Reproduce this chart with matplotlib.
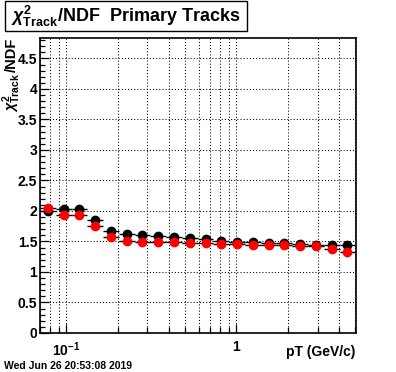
import numpy as np
import matplotlib
matplotlib.use("Agg")
import matplotlib.pyplot as plt
from matplotlib.patches import Rectangle
from matplotlib.ticker import FixedLocator, NullFormatter

plt.rcParams['font.family'] = ['Liberation Sans', 'DejaVu Sans']
plt.rcParams['font.weight'] = 'bold'
plt.rcParams['mathtext.fontset'] = 'custom'
plt.rcParams['mathtext.rm'] = 'Liberation Sans:bold'
plt.rcParams['mathtext.bf'] = 'Liberation Sans:bold'
plt.rcParams['mathtext.it'] = 'Liberation Sans:italic:bold'
plt.rcParams['mathtext.sf'] = 'Liberation Sans:bold'

# ---- data ----
bin_edges = np.logspace(np.log10(0.07), np.log10(5.0), 21)
chi2_black = [2.00, 2.03, 2.03, 1.85, 1.67, 1.62, 1.60, 1.59, 1.575, 1.555,
              1.54, 1.51, 1.495, 1.49, 1.48, 1.48, 1.46, 1.445, 1.445, 1.445]
chi2_red = [2.05, 1.93, 1.93, 1.75, 1.57, 1.51, 1.49, 1.49, 1.49, 1.475,
            1.475, 1.455, 1.455, 1.45, 1.45, 1.45, 1.42, 1.42, 1.37, 1.32]
title_text = r'$\chi^{2}_{\mathrm{Track}}$/NDF  Primary Tracks'
ylabel_sym = r'$\chi^{2}_{\mathrm{Track}}$'
ylabel_rest = '/NDF'
xlabel_text = 'pT (GeV/c)'
date_text = 'Wed Jun 26 20:53:08 2019'
y_major = [0, 0.5, 1, 1.5, 2, 2.5, 3, 3.5, 4, 4.5]
y_labels = ['0', '0.5', '1', '1.5', '2', '2.5', '3', '3.5', '4', '4.5']
x_major = [0.1, 1.0]
x_labels = [r'$\mathbf{10^{-1}}$', '1']
x_minor = [0.07, 0.08, 0.09, 0.2, 0.3, 0.4, 0.5, 0.6, 0.7, 0.8, 0.9, 2, 3, 4, 5]

W, H = 396, 372
fig = plt.figure(figsize=(W / 100, H / 100), dpi=100)
L, R, T, B = 40, 356, 38.3, 333
ax = fig.add_axes([L / W, 1 - B / H, (R - L) / W, (B - T) / H])

centers = np.sqrt(bin_edges[:-1] * bin_edges[1:])
xerr = [centers - bin_edges[:-1], bin_edges[1:] - centers]

ax.set_xscale('log')
ax.set_xlim(0.07, 5.05)
ax.set_ylim(0, 4.83)

# grid
gls = (0, (1, 2))
for xv in x_major + x_minor:
    ax.axvline(xv, color='black', lw=0.75, ls=gls, zorder=0)
for yv in y_major[1:]:
    ax.axhline(yv, color='black', lw=0.75, ls=gls, zorder=0)

ax.errorbar(centers, chi2_black, xerr=xerr, fmt='o', color='black', ecolor='black',
            ms=6, elinewidth=1.0, capsize=0, zorder=3)
ax.errorbar(centers, chi2_red, xerr=xerr, fmt='o', color='red', mfc='red', mec='red',
            ecolor='black', ms=6, elinewidth=1.0, capsize=0, zorder=4)

ax.xaxis.set_major_locator(FixedLocator(x_major))
ax.xaxis.set_minor_locator(FixedLocator(x_minor))
ax.set_xticklabels(x_labels)
ax.xaxis.set_minor_formatter(NullFormatter())
ax.set_yticks(y_major)
ax.set_yticklabels(y_labels)
ax.yaxis.set_minor_locator(FixedLocator(np.arange(0, 4.85, 0.1)))

ax.tick_params(axis='both', which='both', direction='in', top=False, right=False,
               labelsize=10, width=0.9)
ax.tick_params(axis='y', which='major', length=6.5, pad=2)
ax.tick_params(axis='y', which='minor', length=3.5)
ax.tick_params(axis='x', which='major', length=6.5, pad=5)
ax.tick_params(axis='x', which='minor', length=4.5)
for lab in ax.get_xticklabels() + ax.get_yticklabels():
    lab.set_fontweight('bold')
for sp in ax.spines.values():
    sp.set_linewidth(1.2)

# labels
fig.text(355 / W, 1 - 352 / H, xlabel_text, ha='right', va='center', fontsize=10,
         fontweight='bold')
base_x = 16 / W
t1 = fig.text(base_x, 1 - 38 / H, ylabel_rest, rotation=90, rotation_mode='anchor',
              ha='right', va='baseline', fontsize=10.5, fontweight='bold')
fig.canvas.draw()
bb = t1.get_window_extent()
fig.text(base_x, bb.y0 / fig.bbox.height, ylabel_sym, rotation=90, rotation_mode='anchor',
         ha='right', va='baseline', fontsize=10.5, fontweight='bold')

# title box
fig.patches.append(Rectangle((5 / W, 1 - 31 / H), 242 / W, 30 / H, transform=fig.transFigure,
                             facecolor='white', edgecolor='black', lw=1.0))
fig.text(126 / W, 1 - 16 / H, title_text, ha='center', va='center', fontsize=13,
         fontweight='bold')

fig.text(4 / W, 1 - 366 / H, date_text, ha='left', va='center', fontsize=7.5,
         fontweight='bold')

fig.savefig('out.png', dpi=100)
